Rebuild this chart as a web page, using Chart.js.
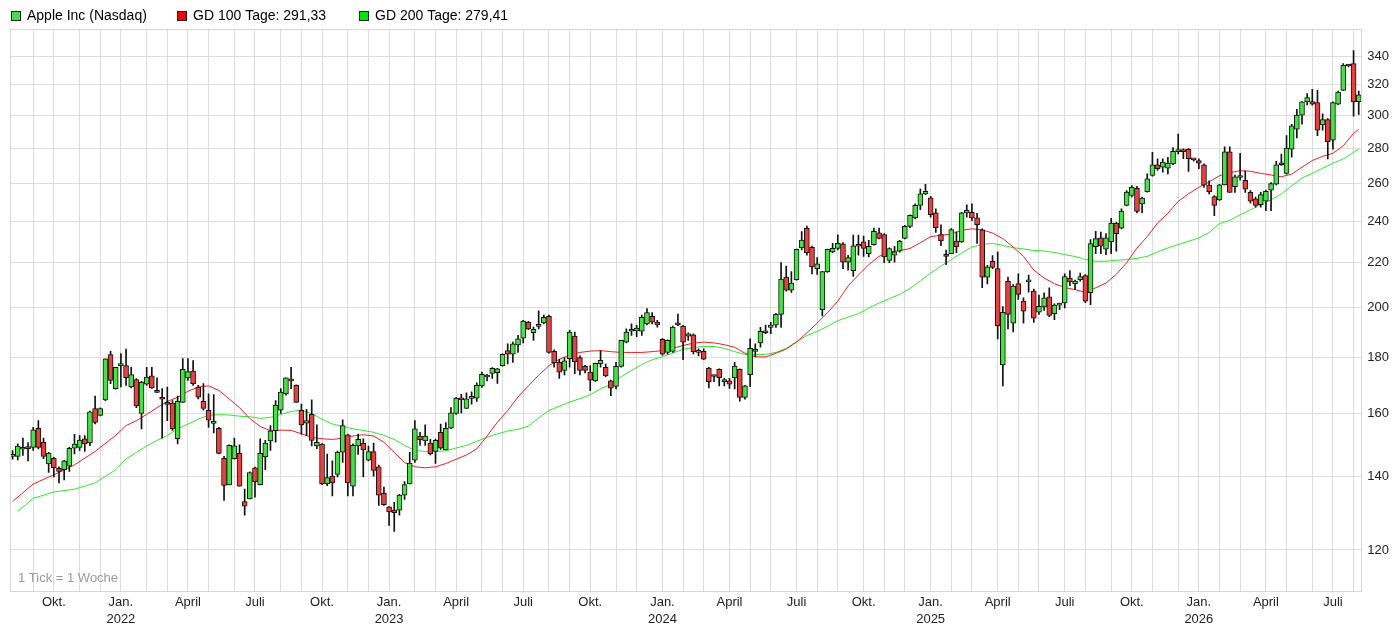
<!DOCTYPE html>
<html>
<head>
<meta charset="utf-8">
<script src="https://cdn.jsdelivr.net/npm/chart.js@4.4.1/dist/chart.umd.min.js"></script>
<style>
  html, body { margin: 0; padding: 0; background: #fff; }
</style>
</head>
<body>
<canvas id="myChart" width="1396" height="628"></canvas>
<script>
// weekly candles, first week starts Monday 2 Aug 2021
const opens = [
  146.2, 146.2, 148.4, 148.8, 149.0, 155.1, 150.6, 143.9, 145.6, 142.5,
  142.1, 143.2, 148.7, 149.0, 151.7, 150.4, 161.7, 159.4, 164.7, 181.2,
  168.6, 177.0, 177.0, 169.2, 171.9, 160.0, 170.2, 173.2, 167.5, 165.1,
  163.3, 163.6, 151.7, 163.8, 172.5, 175.0, 169.2, 164.2, 161.1, 156.7,
  155.1, 145.6, 137.6, 145.5, 147.1, 132.9, 133.6, 142.7, 137.7, 146.0,
  151.0, 154.3, 161.1, 166.8, 171.9, 169.8, 161.1, 156.8, 159.7, 149.4,
  150.0, 138.0, 140.2, 140.7, 147.5, 153.0, 137.3, 149.4, 150.3, 145.0,
  147.7, 143.0, 135.2, 131.4, 130.5, 130.5, 134.7, 137.9, 145.0, 152.6,
  151.0, 150.3, 147.7, 153.8, 148.2, 155.1, 160.0, 164.9, 161.7, 165.2,
  165.3, 169.6, 172.8, 174.1, 174.4, 177.0, 182.7, 181.3, 184.9, 187.6,
  194.0, 189.7, 192.3, 193.7, 196.4, 182.4, 178.2, 175.2, 179.6, 188.4,
  180.0, 176.7, 174.6, 171.4, 177.6, 176.4, 171.4, 169.4, 176.7, 186.0,
  190.3, 190.4, 190.3, 193.3, 196.4, 194.0, 187.1, 182.0, 182.4, 193.0,
  192.4, 188.4, 188.9, 182.0, 182.4, 176.1, 173.0, 175.6, 171.1, 171.4,
  172.5, 175.6, 165.5, 173.7, 182.4, 185.7, 189.7, 191.9, 192.8, 197.2,
  213.3, 207.5, 212.2, 227.0, 236.4, 227.2, 217.2, 199.2, 215.8, 225.0,
  226.7, 228.8, 220.2, 216.2, 227.7, 229.8, 224.2, 228.5, 234.2, 233.4,
  221.0, 223.4, 225.3, 231.5, 237.4, 241.7, 248.2, 254.3, 252.2, 244.3,
  233.4, 223.7, 224.2, 230.2, 229.8, 244.3, 244.6, 241.7, 235.7, 213.3,
  220.6, 217.2, 177.3, 211.4, 193.6, 210.4, 202.8, 211.2, 207.1, 198.1,
  200.3, 204.6, 197.5, 201.1, 202.0, 212.9, 210.4, 212.2, 214.0, 206.4,
  227.5, 231.7, 226.3, 229.8, 239.1, 236.5, 248.2, 253.4, 257.3, 249.0,
  255.5, 264.3, 270.3, 269.0, 268.4, 270.9, 278.0, 278.2, 279.4, 273.6,
  272.8, 270.3, 259.0, 252.8, 251.1, 259.1, 277.9, 258.1, 263.2, 261.7,
  255.1, 251.6, 248.6, 250.4, 256.3, 259.5, 270.8, 265.5, 279.4, 291.5,
  300.2, 308.9, 308.9, 308.3, 294.1, 297.4, 284.8, 307.2, 316.3, 333.2,
  334.7, 308.9
];
const highs = [
  148.0, 150.1, 151.9, 150.5, 155.4, 157.6, 151.9, 147.4, 145.9, 143.0,
  145.0, 149.0, 153.1, 152.7, 152.7, 160.8, 166.0, 161.9, 179.6, 182.4,
  176.4, 181.6, 183.3, 176.4, 172.2, 171.2, 176.4, 176.4, 172.5, 168.6,
  169.2, 164.4, 166.0, 179.7, 179.7, 178.9, 169.8, 170.4, 166.8, 166.5,
  155.4, 146.2, 149.8, 151.9, 149.8, 136.4, 141.5, 142.9, 151.7, 151.2,
  156.0, 164.4, 168.6, 172.5, 176.4, 170.0, 163.2, 161.4, 164.7, 156.2,
  150.2, 146.9, 144.8, 147.8, 157.9, 153.2, 150.1, 153.2, 151.7, 149.4,
  150.3, 143.5, 137.0, 131.5, 132.7, 134.9, 138.6, 147.4, 157.6, 153.8,
  156.2, 151.5, 151.6, 156.5, 157.0, 162.0, 165.6, 166.6, 167.1, 167.5,
  170.7, 174.6, 173.8, 176.3, 176.0, 181.5, 185.3, 186.0, 188.7, 194.7,
  194.3, 192.0, 198.7, 196.9, 196.9, 183.0, 179.4, 180.0, 190.7, 190.0,
  180.7, 177.1, 177.0, 178.0, 182.7, 177.6, 171.7, 178.2, 186.7, 191.3,
  193.3, 192.7, 196.9, 199.6, 198.0, 194.7, 187.4, 186.9, 192.4, 197.3,
  192.7, 189.7, 189.3, 183.4, 183.4, 176.4, 173.5, 175.8, 172.3, 172.3,
  178.2, 175.8, 169.8, 187.3, 185.3, 191.9, 192.8, 193.9, 197.5, 220.0,
  218.3, 215.8, 226.3, 234.8, 237.6, 227.8, 222.3, 215.9, 226.3, 229.1,
  233.2, 229.5, 223.4, 233.1, 233.1, 232.6, 230.6, 236.6, 236.6, 233.9,
  226.9, 227.7, 230.6, 237.9, 243.3, 249.0, 256.9, 259.5, 253.0, 246.4,
  238.2, 225.8, 236.3, 234.7, 244.6, 248.5, 249.0, 244.1, 236.2, 218.7,
  223.3, 224.9, 200.5, 213.3, 210.0, 214.8, 204.2, 214.3, 208.0, 205.4,
  206.4, 208.6, 201.6, 202.0, 214.8, 216.3, 212.0, 215.2, 214.5, 230.9,
  235.0, 234.6, 233.8, 241.5, 239.5, 246.4, 256.1, 258.7, 258.4, 252.5,
  265.2, 277.5, 273.8, 273.8, 274.7, 280.4, 288.5, 279.6, 279.8, 273.8,
  273.8, 270.9, 261.4, 253.3, 259.5, 280.8, 280.8, 264.6, 277.0, 267.0,
  256.0, 252.5, 255.1, 256.3, 260.4, 272.4, 276.6, 287.5, 294.5, 303.9,
  308.9, 314.1, 317.0, 316.3, 301.1, 298.0, 308.7, 315.9, 334.7, 334.2,
  344.0, 315.9
];
const lows = [
  145.3, 145.1, 146.5, 144.8, 148.0, 148.5, 145.5, 141.3, 140.0, 138.2,
  139.1, 141.6, 146.9, 148.0, 147.7, 149.5, 156.5, 159.2, 164.4, 170.4,
  168.4, 169.2, 169.8, 168.9, 162.0, 154.9, 169.8, 168.7, 167.2, 151.9,
  157.6, 154.4, 150.1, 163.8, 171.6, 169.8, 165.0, 161.1, 155.4, 153.6,
  146.9, 133.2, 137.6, 145.3, 137.3, 129.1, 133.6, 134.1, 137.6, 142.1,
  148.0, 150.6, 160.0, 166.3, 168.6, 163.8, 153.2, 152.7, 149.4, 148.6,
  137.7, 137.4, 134.5, 140.0, 144.3, 134.5, 134.5, 146.8, 140.0, 144.8,
  140.2, 131.8, 131.8, 126.4, 124.8, 129.1, 133.5, 137.9, 144.3, 149.6,
  149.6, 146.6, 144.0, 148.3, 148.2, 155.0, 159.7, 160.2, 161.7, 163.2,
  164.1, 169.1, 171.4, 172.3, 170.5, 176.8, 177.6, 178.2, 182.0, 185.7,
  191.0, 186.7, 191.3, 193.3, 181.7, 176.4, 172.3, 173.6, 176.4, 174.0,
  173.6, 174.3, 167.9, 171.2, 176.4, 172.9, 166.1, 168.5, 176.4, 185.7,
  188.7, 188.2, 188.7, 192.9, 193.3, 192.0, 181.0, 181.3, 182.0, 192.6,
  179.2, 186.7, 181.4, 180.7, 179.2, 168.9, 171.1, 169.6, 169.6, 168.7,
  168.5, 164.2, 164.9, 169.3, 180.4, 184.0, 189.3, 189.3, 191.9, 191.9,
  207.1, 206.6, 212.0, 225.9, 223.4, 214.8, 214.6, 196.6, 215.4, 224.6,
  225.9, 217.2, 216.5, 213.6, 223.4, 222.9, 222.6, 228.2, 231.2, 219.9,
  219.9, 220.2, 224.9, 231.2, 236.8, 241.2, 245.9, 253.9, 242.1, 234.4,
  227.9, 219.0, 224.2, 224.6, 229.5, 242.1, 240.3, 229.0, 208.6, 210.3,
  217.2, 187.3, 169.6, 191.3, 190.0, 203.5, 193.6, 206.7, 193.9, 197.2,
  198.9, 196.3, 195.0, 199.2, 199.9, 209.5, 207.9, 211.5, 202.1, 201.3,
  224.2, 224.2, 223.7, 224.2, 225.3, 236.2, 247.9, 252.6, 244.3, 244.3,
  255.2, 263.9, 267.2, 266.2, 265.2, 270.4, 276.6, 273.8, 266.6, 272.4,
  268.1, 257.8, 254.3, 242.8, 250.8, 259.1, 255.1, 255.1, 261.7, 255.1,
  249.3, 247.2, 247.2, 245.4, 245.4, 259.1, 270.0, 265.1, 274.7, 286.1,
  294.5, 306.7, 306.5, 287.5, 290.9, 273.7, 279.4, 306.9, 316.3, 332.4,
  299.6, 300.6
];
const closes = [
  146.6, 149.4, 148.9, 148.6, 154.6, 149.0, 146.2, 147.2, 142.7, 141.6,
  144.8, 148.7, 150.0, 151.3, 150.1, 160.6, 157.0, 161.7, 179.6, 171.6,
  176.4, 177.8, 172.6, 173.7, 162.6, 171.0, 172.8, 168.9, 167.3, 164.9,
  163.1, 154.9, 164.2, 175.6, 174.8, 170.4, 165.6, 161.7, 157.8, 157.4,
  147.1, 137.5, 149.6, 149.5, 137.3, 131.6, 141.3, 138.6, 147.1, 150.3,
  154.3, 162.9, 167.4, 172.5, 171.4, 163.8, 156.2, 157.6, 151.2, 150.6,
  138.0, 139.8, 138.2, 147.5, 156.0, 138.2, 149.6, 151.5, 148.2, 147.7,
  141.9, 134.7, 132.0, 130.0, 129.8, 134.7, 137.7, 144.1, 154.9, 151.4,
  152.6, 146.9, 151.2, 148.7, 155.1, 160.2, 165.3, 164.7, 165.0, 165.4,
  169.8, 173.8, 172.9, 176.0, 175.8, 181.3, 181.3, 185.3, 187.3, 194.4,
  191.3, 191.1, 192.5, 196.0, 182.0, 178.0, 174.6, 178.8, 190.0, 178.5,
  175.2, 175.2, 171.7, 177.9, 179.0, 173.2, 168.8, 176.7, 186.7, 190.0,
  190.6, 191.6, 196.0, 198.0, 194.0, 192.9, 181.3, 186.7, 192.0, 192.9,
  186.0, 189.3, 182.3, 182.7, 179.4, 171.1, 173.3, 172.6, 171.9, 170.2,
  176.8, 165.5, 169.6, 183.6, 183.0, 190.3, 190.3, 192.8, 197.2, 212.5,
  207.5, 210.7, 226.2, 230.7, 224.6, 218.0, 219.4, 215.8, 226.2, 226.7,
  229.1, 220.2, 222.3, 227.9, 228.1, 226.6, 227.7, 235.0, 231.5, 222.6,
  226.6, 225.0, 230.2, 237.4, 243.0, 248.2, 254.3, 255.7, 243.3, 236.8,
  230.2, 222.9, 235.8, 227.4, 244.3, 245.6, 241.7, 238.3, 213.3, 218.0,
  217.7, 192.6, 198.1, 197.2, 209.3, 205.7, 198.5, 211.6, 195.6, 200.6,
  204.2, 196.8, 201.1, 201.5, 213.6, 211.2, 211.6, 213.6, 202.8, 229.0,
  231.4, 227.7, 231.7, 239.1, 233.8, 245.2, 255.2, 257.8, 245.0, 252.0,
  262.4, 270.3, 268.1, 271.9, 271.3, 278.1, 278.2, 278.0, 273.8, 273.2,
  271.3, 259.0, 255.5, 248.1, 259.1, 277.9, 255.1, 263.6, 264.2, 256.8,
  250.4, 248.1, 253.9, 255.6, 259.8, 270.3, 270.4, 280.0, 293.5, 300.2,
  308.7, 311.5, 307.2, 290.9, 297.4, 283.8, 308.3, 315.2, 333.5, 333.0,
  308.7, 313.3
];

// moving averages: [week index, value]
const ma100 = [
  [0, 132.9], [4, 137.9], [8, 140.6], [12, 143.6], [16, 147.7], [20, 152.8], [22, 156.0],
  [24, 157.6], [26, 159.7], [28, 162.0], [30, 164.1], [32, 165.6], [34, 167.7], [36, 169.2],
  [38, 169.6], [40, 168.0], [42, 165.0], [44, 162.0], [46, 158.3], [48, 155.7], [50, 154.3],
  [52, 154.5], [54, 154.4], [56, 153.3], [58, 152.2], [60, 151.7], [62, 151.5], [64, 151.9],
  [66, 152.6], [68, 153.0], [70, 152.6], [72, 150.6], [74, 147.4], [76, 144.3], [78, 143.0],
  [80, 142.7], [82, 143.0], [84, 144.0], [86, 145.3], [88, 146.6], [90, 148.5], [92, 152.6],
  [94, 157.1], [96, 161.0], [98, 165.7], [100, 169.6], [102, 173.5], [104, 177.0], [106, 179.4],
  [108, 181.0], [110, 182.0], [112, 182.5], [114, 182.7], [116, 182.3], [118, 182.0], [120, 182.0],
  [122, 182.0], [124, 182.3], [126, 182.7], [128, 183.6], [130, 184.7], [132, 185.6], [134, 186.0],
  [136, 185.7], [138, 185.0], [140, 184.0], [142, 181.7], [144, 180.3], [146, 180.3], [148, 181.7],
  [150, 183.3], [152, 186.0], [154, 189.7], [156, 193.6], [158, 197.9], [160, 202.8], [162, 209.4],
  [164, 214.3], [166, 219.0], [168, 222.9], [170, 225.0], [172, 225.6], [174, 226.6], [176, 229.4],
  [178, 232.3], [180, 233.1], [182, 233.5], [184, 235.5], [186, 236.2], [188, 235.7], [190, 234.1],
  [192, 231.4], [194, 227.3], [196, 222.9], [198, 216.5], [200, 212.9], [202, 210.4], [204, 208.7],
  [206, 207.8], [208, 206.6], [210, 208.6], [212, 210.7], [214, 214.6], [216, 219.9], [218, 226.8],
  [220, 232.4], [222, 239.1], [224, 244.1], [226, 250.3], [228, 254.3], [230, 257.8], [232, 260.8],
  [234, 264.2], [236, 265.9], [238, 267.0], [240, 266.7], [242, 265.5], [244, 264.6], [246, 263.6],
  [248, 265.1], [250, 269.0], [252, 272.8], [254, 275.2], [256, 277.0], [258, 281.4], [260, 288.9],
  [261, 291.3]
];
const ma200 = [
  [1, 130.2], [4, 133.8], [8, 135.6], [12, 136.4], [16, 138.2], [20, 142.1], [22, 145.4],
  [24, 147.4], [26, 149.4], [28, 151.2], [30, 152.8], [32, 154.9], [34, 156.5], [36, 158.1],
  [38, 159.4], [40, 159.6], [42, 159.5], [44, 159.1], [46, 158.9], [48, 158.4], [50, 158.7],
  [52, 159.7], [54, 160.7], [56, 161.1], [58, 160.0], [60, 158.1], [62, 156.5], [64, 155.7],
  [66, 154.9], [68, 154.4], [70, 153.8], [72, 152.8], [74, 151.5], [76, 149.6], [78, 148.0],
  [80, 147.7], [82, 147.7], [84, 147.9], [86, 148.8], [88, 149.6], [90, 150.9], [92, 152.2],
  [94, 153.3], [96, 154.2], [98, 154.8], [100, 155.8], [102, 158.5], [104, 161.0], [106, 162.5],
  [108, 163.9], [110, 165.1], [112, 166.5], [114, 168.6], [116, 170.1], [118, 172.9], [120, 175.2],
  [122, 177.4], [124, 179.2], [126, 180.4], [128, 181.7], [130, 183.3], [132, 183.9], [134, 184.3],
  [136, 184.3], [138, 183.6], [140, 182.3], [142, 181.3], [144, 181.1], [146, 181.3], [148, 182.0],
  [150, 183.6], [152, 186.2], [154, 188.6], [156, 190.2], [158, 192.3], [160, 194.6], [162, 196.1],
  [164, 197.5], [166, 199.9], [168, 202.0], [170, 203.9], [172, 205.7], [174, 208.3], [176, 211.7],
  [178, 215.1], [180, 218.4], [182, 221.3], [184, 224.4], [186, 227.3], [188, 228.5], [190, 229.0],
  [192, 228.1], [194, 227.0], [196, 226.4], [198, 225.7], [200, 225.4], [202, 224.7], [204, 223.7],
  [206, 222.8], [208, 221.4], [210, 220.6], [212, 220.6], [214, 221.0], [216, 221.4], [218, 221.9],
  [220, 222.9], [222, 225.0], [224, 226.9], [226, 228.5], [228, 230.1], [230, 231.7], [232, 234.3],
  [234, 238.8], [236, 240.5], [238, 243.3], [240, 245.8], [242, 248.6], [244, 251.1], [246, 254.2],
  [248, 258.6], [250, 262.9], [252, 265.5], [254, 268.4], [256, 271.2], [258, 273.7], [260, 277.5],
  [261, 279.4]
];

const yTicks = [120, 140, 160, 180, 200, 220, 240, 260, 280, 300, 320, 340];
const quarterNames = { 0: "Jan.", 3: "April", 6: "Juli", 9: "Okt." };
const legendItems = [
  { text: "Apple Inc (Nasdaq)", color: "#44e044", x: 11 },
  { text: "GD 100 Tage: 291,33", color: "#ff0000", x: 177 },
  { text: "GD 200 Tage: 279,41", color: "#00e600", x: 359 },
];
const tickNote = "1 Tick = 1 Woche";

const UP = "#3ee63e";
const DOWN = "#f03c3c";
const DAY = 86400000;
const firstMonday = Date.UTC(2021, 7, 2);

const weekLabels = opens.map((_, i) => new Date(firstMonday + i * 7 * DAY).toISOString().slice(0, 10));
// the week holds the 1st of a month when its Sunday is in the first 7 days
const weekEnds = weekLabels.map((l) => new Date(Date.parse(l) + 6 * DAY));
const monthStart = weekEnds.map((d) => d.getUTCDate() <= 7);

function xLabel(i) {
  if (!monthStart[i]) return "";
  const m = weekEnds[i].getUTCMonth();
  if (!(m in quarterNames)) return "";
  return m === 0 ? [quarterNames[m], String(weekEnds[i].getUTCFullYear())] : quarterNames[m];
}

Chart.defaults.font.family = '"Liberation Sans", Arial, sans-serif';
Chart.defaults.font.size = 13;

// plot frame, legend row and the footnote
const decor = {
  id: "decor",
  afterDraw(chart) {
    const { ctx, chartArea: a } = chart;
    ctx.save();
    ctx.strokeStyle = "#d6d6d6";
    ctx.lineWidth = 1;
    ctx.strokeRect(Math.round(a.left) + 0.5, Math.round(a.top) + 0.5,
      Math.round(a.right - a.left), Math.round(a.bottom - a.top));

    ctx.textBaseline = "middle";
    ctx.font = '13px "Liberation Sans", Arial, sans-serif';
    ctx.fillStyle = "#9a9a9a";
    ctx.fillText(tickNote, a.left + 8, a.bottom - 13);

    ctx.font = '14px "Liberation Sans", Arial, sans-serif';
    legendItems.forEach((item) => {
      ctx.fillStyle = item.color;
      ctx.fillRect(item.x, 11, 10, 10);
      ctx.strokeStyle = "#222";
      ctx.strokeRect(item.x + 0.5, 11.5, 9, 9);
      ctx.fillStyle = "#000";
      ctx.fillText(item.text, item.x + 16, 16.5);
    });
    ctx.restore();
  },
};

const ctx = document.getElementById("myChart").getContext("2d");

const appleChart = new Chart(ctx, {
  type: "bar",
  data: {
    labels: weekLabels,
    datasets: [
      {
        label: "Apple Inc (Nasdaq)",
        data: opens.map((o, i) => [o, closes[i]]),
        backgroundColor: closes.map((c, i) => (c >= opens[i] ? UP : DOWN)),
        borderColor: "#111",
        borderWidth: 1,
        borderSkipped: false,
        barThickness: 5,
        minBarLength: 2,
        grouped: false,
      },
      {
        label: "Spanne",
        data: lows.map((l, i) => [l, highs[i]]),
        backgroundColor: "#111",
        barThickness: 1,
        grouped: false,
      },
      {
        type: "line",
        label: "GD 100",
        data: ma100.map(([w, v]) => ({ x: weekLabels[w], y: v })),
        borderColor: "#f01e1e",
        borderWidth: 1,
        pointRadius: 0,
        tension: 0,
      },
      {
        type: "line",
        label: "GD 200",
        data: ma200.map(([w, v]) => ({ x: weekLabels[w], y: v })),
        borderColor: "#2ee82e",
        borderWidth: 1,
        pointRadius: 0,
        tension: 0,
      },
    ],
  },
  options: {
    responsive: false,
    animation: false,
    layout: { padding: { top: 29, left: 10, right: 1, bottom: -3 } },
    plugins: {
      legend: { display: false },
      tooltip: { enabled: false },
    },
    scales: {
      x: {
        offset: true,
        border: { display: false },
        grid: {
          offset: false,
          drawTicks: false,
          color: (c) => (monthStart[c.index] ? "#dcdcdc" : "rgba(0,0,0,0)"),
        },
        ticks: {
          autoSkip: false,
          maxRotation: 0,
          minRotation: 0,
          padding: 3,
          color: "#222",
          font: { size: 13, lineHeight: 1.3 },
          callback: (v, i) => xLabel(i),
        },
      },
      y: {
        type: "logarithmic",
        position: "right",
        min: 110,
        max: 360,
        border: { display: false },
        afterBuildTicks: (s) => {
          s.ticks = yTicks.map((v) => ({ value: v }));
        },
        grid: { color: "#dcdcdc", drawTicks: false },
        ticks: {
          padding: 6,
          color: "#222",
          callback: (v) => String(v),
        },
      },
    },
  },
  plugins: [decor],
});
</script>
</body>
</html>
